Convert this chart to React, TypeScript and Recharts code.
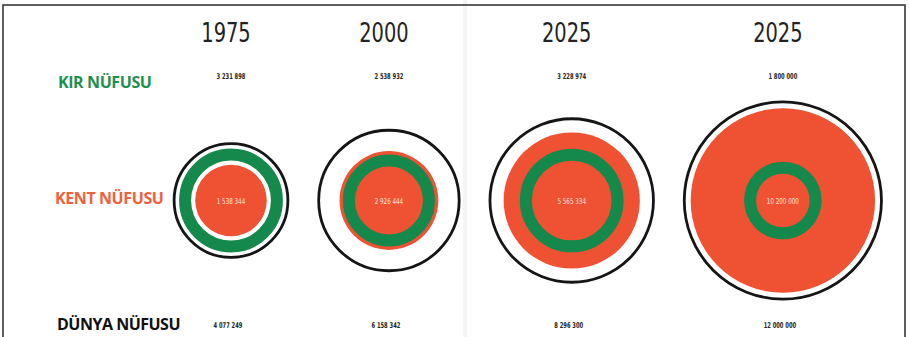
import React from "react";
import { ScatterChart, Scatter, XAxis, YAxis, ZAxis } from "recharts";

const YEARS = ["1975", "2000", "2025", "2025"];
const KIR = [3231898, 2538932, 3228974, 1800000];
const KENT = [1538344, 2926444, 5565334, 10200000];
const DUNYA = [4077249, 6158342, 8296300, 12000000];

const W = 909;
const H = 337;
const MAX_R = 100; // radius of the biggest circle, px
const Z_MAX = 12000000;
const PX = MAX_R / Math.sqrt(Z_MAX); // px per sqrt-unit
const LEAD = 231 / PX;
const GAP = 28 / PX;

// circles are packed left to right, each one as wide as its world population
const xs: number[] = [];
DUNYA.forEach((v, i) => {
  xs.push(i === 0 ? LEAD : xs[i - 1] + Math.sqrt(DUNYA[i - 1]) + GAP + Math.sqrt(v));
});

const data = YEARS.map((year, i) => ({
  year,
  x: xs[i],
  y: 0,
  kir: KIR[i],
  kent: KENT[i],
  dunya: DUNYA[i],
}));

const NARROW = "'Liberation Sans Narrow', 'DejaVu Sans Condensed', Roboto, sans-serif";
const LABEL = "'Open Sans', 'Noto Sans', sans-serif";
const RED = "#ef5133";
const GREEN = "#15894b";

const fmt = (v: number) => String(v).replace(/\B(?=(\d{3})+(?!\d))/g, " ");

// squeezed text, the source uses a condensed face
function Narrow({ x, y, size, weight = 400, fill, sx, children }: any) {
  return (
    <text
      transform={`translate(${x},${y}) scale(${sx},1)`}
      textAnchor="middle"
      fontFamily={NARROW}
      fontSize={size}
      fontWeight={weight}
      fill={fill}
    >
      {children}
    </text>
  );
}

function WorldShape(p: any) {
  const { cx, cy, width, payload } = p;
  const r = width / 2;
  return (
    <g>
      <circle cx={cx} cy={cy} r={r - 1.4} fill="#fff" stroke="#151515" strokeWidth={2.8} />
      <Narrow x={cx - 5} y={cy - 159} size={27} fill="#222" sx={0.8}>
        {payload.year}
      </Narrow>
      <Narrow x={cx - 3} y={cy + 127} size={8} weight={700} fill="#222" sx={0.72}>
        {fmt(payload.dunya)}
      </Narrow>
    </g>
  );
}

function KentShape(p: any) {
  const { cx, cy, width, payload } = p;
  return (
    <g>
      <circle cx={cx} cy={cy} r={width / 2} fill={RED} />
      <Narrow x={cx} y={cy + 3} size={8} fill="#ffe4d9" sx={0.78}>
        {fmt(payload.kent)}
      </Narrow>
    </g>
  );
}

function KirShape(p: any) {
  const { cx, cy, width, payload } = p;
  const r = width / 2;
  return (
    <g>
      <circle cx={cx} cy={cy} r={r - 6} fill="none" stroke={GREEN} strokeWidth={12} />
      <Narrow x={cx} y={cy - 122} size={8} weight={700} fill="#222" sx={0.72}>
        {fmt(payload.kir)}
      </Narrow>
    </g>
  );
}

export default function App() {
  const zRange: [number, number] = [0, Math.PI * MAX_R * MAX_R];
  return (
    <div style={{ position: "relative", width: W, height: H, background: "#fff", overflow: "hidden" }}>
      <style>{"body{margin:0}"}</style>
      <svg width={W} height={H} style={{ position: "absolute", left: 0, top: 0 }}>
        <rect x={463} y={0} width={4} height={H} fill="#f4f4f4" />
        <path d={`M3 ${H} V5 H905 V${H}`} fill="none" stroke="#2a2a2a" strokeWidth={1.5} />
        <text x={58} y={88} fontFamily={LABEL} fontWeight={700} fontSize={16} fill="#1f8f4e" letterSpacing={-0.4}>
          KIR NÜFUSU
        </text>
        <text x={55} y={204} fontFamily={LABEL} fontWeight={700} fontSize={16} fill="#f2603b" letterSpacing={-0.4}>
          KENT NÜFUSU
        </text>
        <text x={57} y={330} fontFamily={LABEL} fontWeight={700} fontSize={16} fill="#111" letterSpacing={-0.5}>
          DÜNYA NÜFUSU
        </text>
      </svg>
      <div style={{ position: "absolute", left: 0, top: 0 }}>
        <ScatterChart width={W} height={H} margin={{ top: 64, right: 0, bottom: 0, left: 0 }}>
          <XAxis type="number" dataKey="x" domain={[0, W / PX]} hide />
          <YAxis type="number" dataKey="y" domain={[-1, 1]} hide />
          <ZAxis zAxisId="w" type="number" dataKey="dunya" domain={[0, Z_MAX]} range={zRange} />
          <ZAxis zAxisId="k" type="number" dataKey="kent" domain={[0, Z_MAX]} range={zRange} />
          <ZAxis zAxisId="g" type="number" dataKey="kir" domain={[0, Z_MAX]} range={zRange} />
          <Scatter data={data} zAxisId="w" shape={WorldShape} isAnimationActive={false} />
          <Scatter data={data} zAxisId="k" shape={KentShape} isAnimationActive={false} />
          <Scatter data={data} zAxisId="g" shape={KirShape} isAnimationActive={false} />
        </ScatterChart>
      </div>
    </div>
  );
}
